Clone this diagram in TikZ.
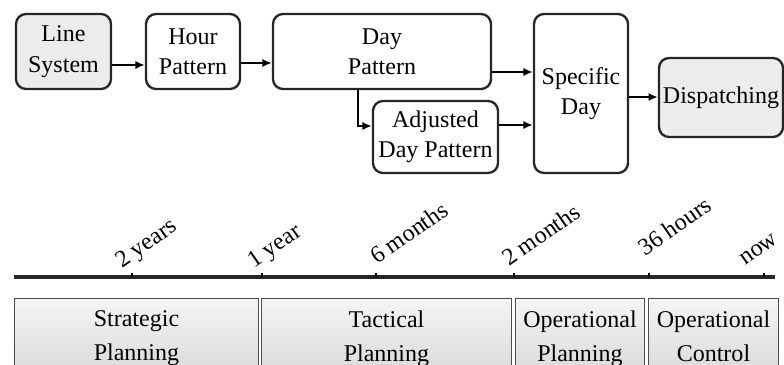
\documentclass[tikz,border=0pt]{standalone}
\usepackage{fontspec}
\setmainfont{Liberation Serif}
\usetikzlibrary{arrows.meta}

\tikzset{
  box/.style={draw=black!85, line width=2pt, rounded corners=0.3cm, align=center,
    inner sep=1pt, font=\fontsize{20.5}{26}\selectfont},
  greybox/.style={box, fill=gray!15},
  arr/.style={line width=2.4pt, -{Latex[length=0.28cm,width=0.24cm]}},
  phase/.style={draw=black!70, line width=0.8pt, top color=gray!8, bottom color=gray!30,
    minimum height=2.4cm, anchor=north west},
  phasetext/.style={align=center, anchor=north, yshift=-0.25cm, font=\fontsize{20.5}{29}\selectfont},
  tlabel/.style={rotate=35, anchor=base west, inner sep=0pt, font=\fontsize{20.5}{25}\selectfont}
}

\begin{document}
\begin{tikzpicture}[x=0.03cm, y=-0.03cm]
\clip (0,0) rectangle (784,365);
% process boxes
\node [greybox, minimum width=2.85cm, minimum height=2.25cm] (ls) at (63.5,51.5) {Line\\System};
\node [box, minimum width=2.82cm, minimum height=2.25cm] (hp) at (193,51.5) {Hour\\Pattern};
\node [box, minimum width=6.54cm, minimum height=2.25cm] (dp) at (382,51.5) {Day\\Pattern};
\node [box, minimum width=3.75cm, minimum height=2.16cm] (adp) at (435.5,137) {Adjusted\\Day Pattern};
\node [box, minimum width=2.82cm, minimum height=4.77cm] (sd) at (581,93.5) {Specific\\Day};
\node [greybox, minimum width=3.72cm, minimum height=2.37cm] (dis) at (721,97.5) {Dispatching};

\draw [arr] (ls.east |- 0,65) -- (hp.west |- 0,65);
\draw [arr] (hp.east |- 0,63) -- (dp.west |- 0,63);
\draw [arr] (dp.east |- 0,72) -- (sd.west |- 0,72);
\draw [arr] (dp.south -| 358,0) |- (adp.west |- 0,126);
\draw [arr] (adp.east |- 0,125) -- (sd.west |- 0,125);
\draw [arr] (sd.east |- 0,97) -- (dis.west |- 0,97);

% time line
\coordinate (tl0) at (14,277);
\coordinate (tl1) at (775,277);
\draw [line width=3.2pt, black!85] (tl0) -- (tl1);
\foreach \tx/\lx/\ly/\txt [count=\i] in {132/122/269/2 years, 262/254/269/1 year,
    376/377/265/6 months, 514/509/267/2 months, 649/645/257/36 hours, 764/745/266/now}{
  \draw [line width=1.2pt] (\tx,277) -- (\tx,273);
  \node [tlabel] (tick\i) at (\lx,\ly) {\txt};
}

% planning horizons
\node [phase, minimum width=7.32cm] (strat) at (14,298) {};
\node [phase, minimum width=7.5cm] (tact) at (261,298) {};
\node [phase, minimum width=3.87cm] (oper) at (515,298) {};
\node [phase, minimum width=3.9cm] (ctrl) at (648,298) {};
\node [phasetext] (stratlbl) at (strat.north) {Strategic\\Planning};
\node [phasetext] (tactlbl) at (tact.north) {Tactical\\Planning};
\node [phasetext] (operlbl) at (oper.north) {Operational\\Planning};
\node [phasetext] (ctrllbl) at (ctrl.north) {Operational\\Control};
\end{tikzpicture}
\end{document}
